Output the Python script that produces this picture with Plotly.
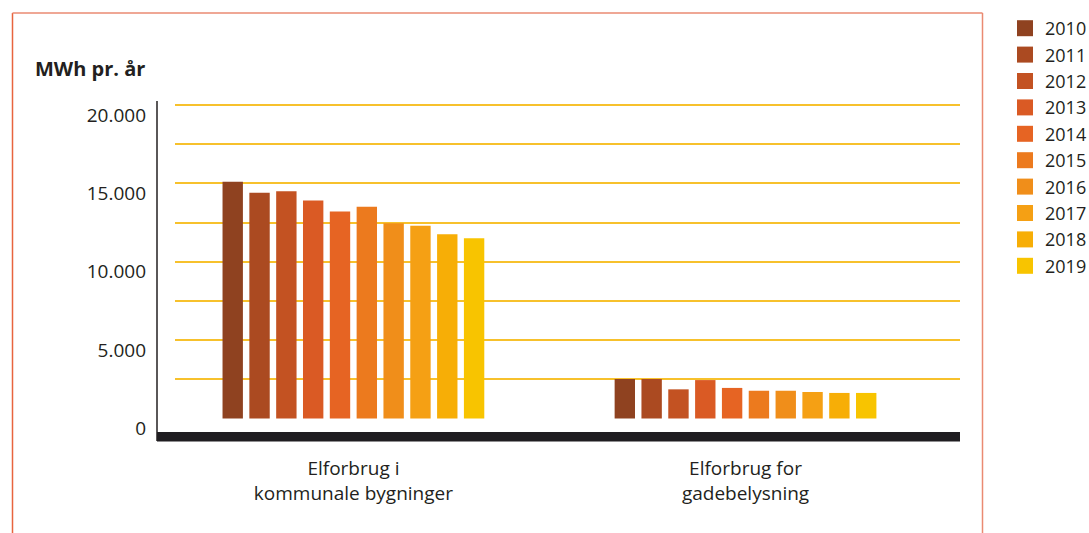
import plotly.graph_objects as go

categories = ["Elforbrug i<br>kommunale bygninger", "Elforbrug for<br>gadebelysning"]
years = ["2010", "2011", "2012", "2013", "2014", "2015", "2016", "2017", "2018", "2019"]
bygninger = [15100, 14400, 14500, 13900, 13200, 13500, 12450, 12300, 11750, 11500]
gadebelysning = [2520, 2520, 1860, 2450, 1950, 1770, 1770, 1690, 1630, 1630]
colors = ["#8F4220", "#AB4A21", "#C35222", "#DA5A24", "#E66423",
          "#EC7A1E", "#F08E1A", "#F5A014", "#F7AE06", "#F8C400"]
tick_vals = [0, 5000, 10000, 15000, 20000]
minor_vals = [2500, 7500, 12500, 17500]

W, H = 1089, 533
L, R, T, B = 175, 960, 101, 432
pw, ph = R - L, B - T

def px_x(p):
    return (p - L) / pw

def px_y(p):
    return (B - p) / ph

FONT = "Open Sans"
TXT = "#231F20"

fig = go.Figure()
for i, yr in enumerate(years):
    fig.add_trace(go.Bar(
        x=categories, y=[bygninger[i], gadebelysning[i]], name=yr,
        marker=dict(color=colors[i], line=dict(width=0)),
        legendgroup=yr, showlegend=False,
    ))
for i, yr in enumerate(years):
    fig.add_trace(go.Scatter(
        x=[None], y=[None], mode="markers", name=yr, legendgroup=yr,
        marker=dict(symbol="square", size=17, color=colors[i]),
        showlegend=True,
    ))

fig.update_layout(
    width=W, height=H,
    margin=dict(l=L, r=W - R, t=T, b=H - B, pad=0, autoexpand=False),
    paper_bgcolor="white", plot_bgcolor="white",
    barmode="group", bargap=0.316, bargroupgap=0.24,
    separators=",.",
    font=dict(family=FONT, color=TXT, size=19),
    showlegend=True,
    legend=dict(x=px_x(1005), xanchor="left", y=px_y(10), yanchor="top",
                font=dict(size=18, family=FONT, color=TXT),
                tracegroupgap=0, bgcolor="rgba(0,0,0,0)", maxheight=1),
    xaxis=dict(type="category", range=[-0.455, 1.547], showgrid=False,
               showline=False, ticks="", tickfont=dict(size=19),
               ticklabelstandoff=23),
    yaxis=dict(range=[-861, 20249], tickvals=tick_vals, tickformat=",d",
               showgrid=True, gridcolor="#F7C12C", gridwidth=1.5,
               zeroline=True, zerolinecolor="rgba(0,0,0,0)", zerolinewidth=1,
               minor=dict(tickmode="array", tickvals=minor_vals, showgrid=True,
                          gridcolor="#F7C12C", gridwidth=1.5, ticks=""),
               showline=False, ticks="", tickfont=dict(size=19),
               ticklabelshift=10, ticklabelstandoff=28),
    annotations=[dict(text="<b>MWh pr. år</b>", xref="paper", yref="paper",
                      x=px_x(33), y=px_y(68), xanchor="left", yanchor="middle",
                      showarrow=False, font=dict(size=20, family=FONT, color=TXT))],
    shapes=[
        dict(type="rect", xref="paper", yref="paper", x0=px_x(157), x1=1, y0=px_y(441.5), y1=px_y(432),
             fillcolor="#1F1D21", line=dict(width=0), layer="above"),
        dict(type="line", xref="paper", yref="paper", x0=px_x(157), x1=px_x(157), y0=px_y(441), y1=px_y(101),
             line=dict(color="#231F20", width=1.5)),
        dict(type="line", xref="paper", yref="paper", x0=px_x(12.5), x1=px_x(12.5), y0=px_y(540), y1=px_y(13),
             line=dict(color="#E8643E", width=1.5)),
        dict(type="line", xref="paper", yref="paper", x0=px_x(12.5), x1=px_x(982.5), y0=px_y(13), y1=px_y(13),
             line=dict(color="#EA8A72", width=1.5)),
        dict(type="line", xref="paper", yref="paper", x0=px_x(982.5), x1=px_x(982.5), y0=px_y(13), y1=px_y(540),
             line=dict(color="#EA8A72", width=1.5)),
    ],
)

fig.write_html(
    "out.html",
    config={"displayModeBar": False},
    post_script="document.body.style.margin='0';document.body.style.overflow='hidden';",
)
